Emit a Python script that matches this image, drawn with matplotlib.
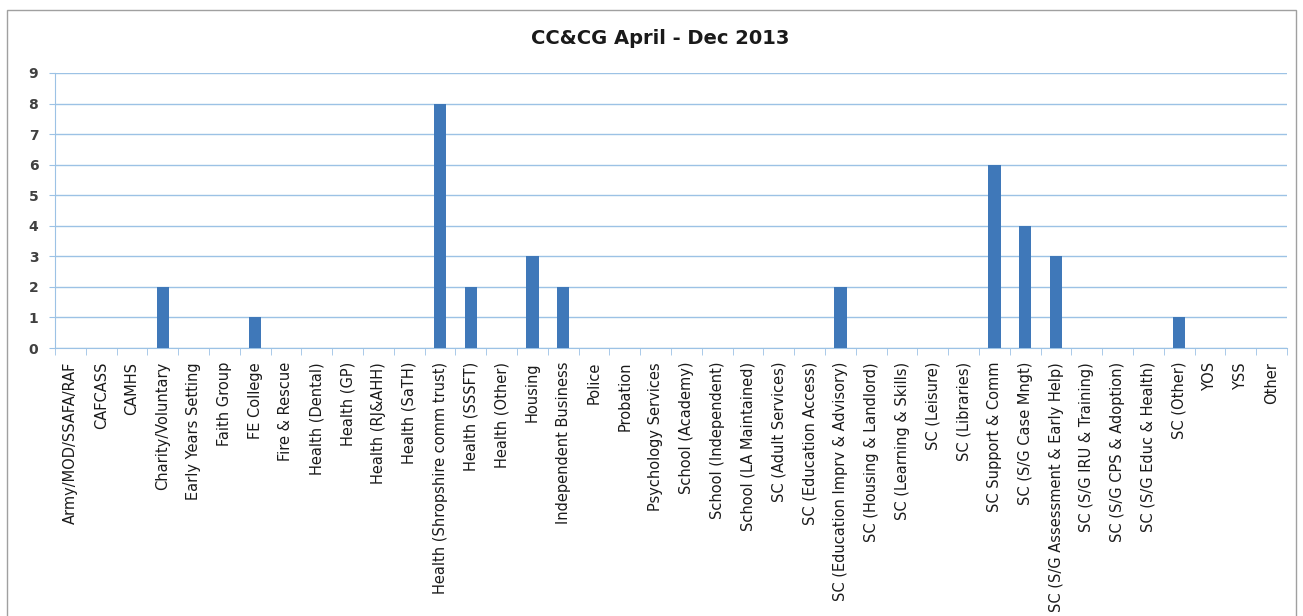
import matplotlib
matplotlib.use('Agg')
import matplotlib.pyplot as plt
import numpy as np
from matplotlib.patches import Rectangle

categories = [
    "Army/MOD/SSAFA/RAF", "CAFCASS", "CAMHS", "Charity/Voluntary",
    "Early Years Setting", "Faith Group", "FE College", "Fire & Rescue",
    "Health (Dental)", "Health (GP)", "Health (RJ&AHH)", "Health (SaTH)",
    "Health (Shropshire comm trust)", "Health (SSSFT)", "Health (Other)",
    "Housing", "Independent Business", "Police", "Probation",
    "Psychology Services", "School (Academy)", "School (Independent)",
    "School (LA Maintained)", "SC (Adult Services)", "SC (Education Access)",
    "SC (Education Imprv & Advisory)", "SC (Housing & Landlord)",
    "SC (Learning & Skills)", "SC (Leisure)", "SC (Libraries)",
    "SC Support & Comm", "SC (S/G Case Mngt)",
    "SC (S/G Assessment & Early Help)", "SC (S/G IRU & Training)",
    "SC (S/G CPS & Adoption)", "SC (S/G Educ & Health)", "SC (Other)",
    "YOS", "YSS", "Other",
]
counts = [0, 0, 0, 2, 0, 0, 1, 0, 0, 0, 0, 0, 8, 2, 0, 3, 2, 0, 0, 0,
          0, 0, 0, 0, 0, 2, 0, 0, 0, 0, 6, 4, 3, 0, 0, 0, 1, 0, 0, 0]
y_ticks = list(range(0, 10))
title = "CC&CG April - Dec 2013"

plt.rcParams['font.family'] = ['DejaVu Sans']

grid_col = '#9cc2e5'
bar_col = '#3f78b9'

fig = plt.figure(figsize=(13.03, 6.16), dpi=100)
# outer chart frame
fig.patches.append(Rectangle((7/1303, -0.01), 1289/1303, 1 - 10/616 + 0.01,
                             transform=fig.transFigure, fill=False,
                             edgecolor='#a0a0a0', linewidth=1.0))
ax = fig.add_axes([55/1303, 1 - 348/616, 1232/1303, 275/616])

x = np.arange(len(categories))
ax.bar(x, counts, width=0.4, color=bar_col, zorder=3)

ax.set_xlim(-0.5, len(categories) - 0.5)
ax.set_ylim(0, 9)
ax.set_yticks(y_ticks)
ax.set_yticklabels([str(v) for v in y_ticks], fontsize=10, color='#404040',
                   fontweight='bold')
ax.yaxis.grid(True, color=grid_col, linewidth=1.0, zorder=0)
ax.set_axisbelow(True)

ax.set_xticks(x)
ax.set_xticklabels(categories, rotation=90, fontsize=10.5, color='#1a1a1a')
ax.tick_params(axis='x', which='major', length=0, pad=10)
ax.set_xticks(np.arange(-0.5, len(categories), 1), minor=True)
ax.tick_params(axis='x', which='minor', length=5, color=grid_col, direction='out')
ax.tick_params(axis='y', length=4, color=grid_col, direction='out', pad=8)

for s in ['top', 'right']:
    ax.spines[s].set_visible(False)
ax.spines['left'].set_color(grid_col)
ax.spines['bottom'].set_color(grid_col)

fig.text(660/1303, 1 - 38/616, title, ha='center', va='center',
         fontsize=14, fontweight='bold', color='#1a1a1a')

fig.savefig('out.png', dpi=100)
